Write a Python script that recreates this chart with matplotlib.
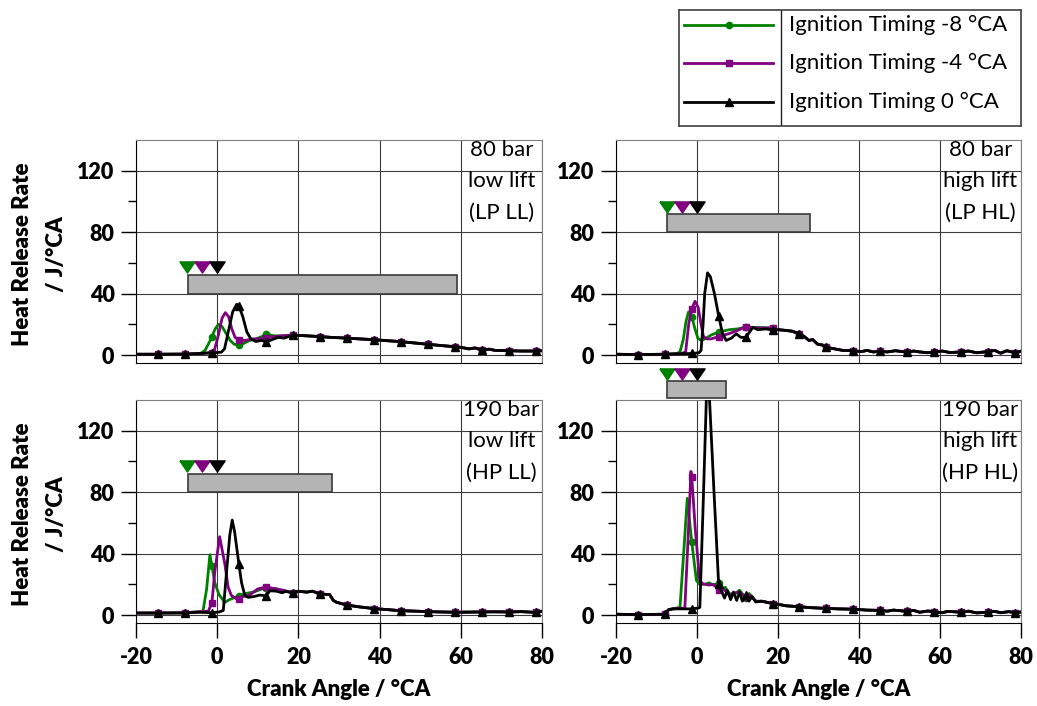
import numpy as np
import matplotlib.pyplot as plt
from matplotlib.patches import Rectangle

plt.rcParams['font.family'] = ['Lato', 'DejaVu Sans']
plt.rcParams['axes.unicode_minus'] = False

# ---- Data ----
# crank angles where the series markers sit
mark_ca = [-14.6, -7.95, -1.3, 5.35, 12.0, 18.65, 25.3, 31.95, 38.6, 45.25,
           51.9, 58.55, 65.2, 71.85, 78.5]

series_labels = ['Ignition Timing -8 °CA', 'Ignition Timing -4 °CA',
                 'Ignition Timing 0 °CA']
panel_text = [['80 bar', 'low lift', '(LP LL)'],
              ['80 bar', 'high lift', '(LP HL)'],
              ['190 bar', 'low lift', '(HP LL)'],
              ['190 bar', 'high lift', '(HP HL)']]

# grey bars (start / end in °CA, bottom / top in J/°CA) and ignition markers
bar_start = [-7.2, -7.4, -7.2, -7.4]
bar_end = [59.0, 28.0, 28.2, 7.1]
bar_low = [40, 80, 80, 141]
bar_high = [52, 92, 92, 152.5]
ign_ca = [-7.4, -3.7, 0.0]
ign_hrr = [57, 96.5, 97, 157]

# ---- 80 bar, low lift ----
lpll_tail_ca = [18.65, 22, 25.3, 28, 31.95, 35, 38.6, 42, 45.25, 48, 51.9, 55,
                58.55, 60, 62, 63.5, 65.2, 67, 68.5, 71.85, 75, 78.5, 80]
lpll_tail_hrr = [13, 12.5, 12, 11.5, 11, 10.5, 10, 9.3, 8.7, 8, 7, 6.2,
                 5.4, 5.0, 4.0, 4.6, 3.3, 3.8, 3.0, 2.8, 2.6, 2.6, 2.8]
lpll_m8_ca = [-20, -14.6, -7.95, -5, -4, -3, -2, -1.3, -0.5, 0.3, 1.2, 2.2,
              3.2, 4.2, 5.35, 6.5, 8, 9.5, 11, 12.0, 14, 16]
lpll_m8_hrr = [0.5, 0.5, 0.6, 0.8, 1.2, 3, 8, 12, 17, 20, 18.5, 14,
               9.5, 7, 6.5, 7.5, 9.5, 10.5, 12, 13.7, 12.5, 12.5]
lpll_m4_ca = [-20, -14.6, -7.95, -4, -1.3, -0.6, 0.3, 1.2, 2.0, 2.8, 3.6,
              4.4, 5.35, 7, 8.5, 10, 12.0, 14, 16]
lpll_m4_hrr = [0.5, 0.5, 0.6, 1.0, 1.5, 4, 13, 24, 27.6, 25, 17,
               11.5, 9.8, 9.5, 10.5, 10.5, 11.0, 12, 12.5]
lpll_0_ca = [-20, -14.6, -7.95, -4, -1.3, 1.0, 1.8, 2.8, 3.8, 4.8, 5.35,
             6.3, 7.3, 8.3, 9.5, 11, 12.0, 13.5, 15, 16.5]
lpll_0_hrr = [0.5, 0.5, 0.6, 1.0, 1.5, 1.8, 4, 16, 28, 33, 32,
              25, 15, 10.5, 8.8, 9.5, 8.5, 10, 11.5, 11]

# ---- 80 bar, high lift ----
lphl_tail_ca = [20, 22, 23.5, 25.3, 26.5, 27.7, 28.5, 29.8, 31, 31.95, 34,
                36, 38.6, 40.5, 42, 43.5, 45.25, 47, 49, 51.9, 53.5, 55, 57,
                58.55, 60.5, 62.5, 65.2, 67, 69, 71.85, 73.5, 75, 76.5,
                78.5, 80]
lphl_tail_hrr = [16.5, 16, 15.5, 13.8, 12, 9.4, 10.2, 7, 6.5, 5, 4,
                 3, 2.8, 2.2, 3.0, 2.0, 2.5, 2.0, 2.8, 1.8, 2.6, 2.0, 1.5,
                 2.0, 2.6, 1.6, 2.0, 2.6, 1.5, 2.2, 3.0, 1.2, 2.8,
                 1.5, 2.5]
lphl_m8_ca = [-20, -14.6, -7.95, -5, -4.2, -3.4, -2.7, -2.1, -1.3, -0.5,
              0.2, 1.0, 2.0, 3.5, 5.35, 8, 10, 12.0, 15, 18.65]
lphl_m8_hrr = [0.5, 0.3, 0.5, 1.0, 2, 10, 22, 28, 25, 17,
               11, 9.5, 10.5, 13, 15, 16.5, 17, 18, 18, 17.5]
lphl_m4_ca = [-20, -14.6, -7.95, -4, -2.8, -2.0, -1.3, -0.5, 0.3, 1.0, 1.6,
              2.5, 3.5, 5.35, 8, 10, 12.0, 15, 18.65]
lphl_m4_hrr = [0.5, 0.3, 0.5, 0.8, 2, 21, 30, 35, 31, 20, 12,
               10.5, 10.5, 12, 14, 16, 18.5, 17.5, 17.7]
lphl_0_ca = [-20, -14.6, -7.95, -4, -1.3, 0.5, 1.0, 1.5, 1.9, 2.6, 3.3, 4.3,
             5.35, 6.3, 7.2, 8.5, 9.7, 10.8, 12.0, 13.0, 13.8, 15, 17, 18.65]
lphl_0_hrr = [0.5, 0.3, 0.5, 0.8, 1.0, 1.5, 3, 20, 40, 53.5, 51, 40,
              25.5, 14, 9.5, 11, 13.8, 11.5, 11.5, 15, 18, 16.5, 17, 16.3]

# ---- 190 bar, low lift ----
hpll_tail_ca = [18.65, 20, 22, 23.5, 25.3, 27.7, 28.6, 29.4, 31.95, 35, 38.6,
                42, 45.25, 48, 51.9, 55, 58.55, 62, 65.2, 68, 71.85, 75,
                78.5, 80]
hpll_tail_hrr = [14.4, 15.5, 14.9, 15.5, 13.7, 13.3, 9.5, 8.3, 6.5, 5.3, 4.2,
                 3.5, 2.8, 2.6, 2.2, 2.0, 1.8, 1.9, 2.0, 2.1, 2.0, 2.2,
                 1.7, 2.5]
hpll_m8_ca = [-20, -14.6, -7.95, -5, -3.5, -2.6, -1.8, -1.3, -0.6, 0.5, 1.9,
              3, 5.35, 7, 9, 11, 12.0, 14.6, 16.5]
hpll_m8_hrr = [1.3, 1.3, 1.5, 2, 2.5, 17, 39.3, 32, 21, 13, 8.3,
               10, 12.5, 14, 15, 17, 17.5, 17, 15.5]
hpll_m4_ca = [-20, -14.6, -7.95, -5, -2.2, -1.3, -0.6, 0.6, 1.9, 2.7, 3.5,
              4.8, 5.35, 6.4, 8, 10, 12.0, 14.6, 16.5]
hpll_m4_hrr = [1.3, 1.3, 1.5, 2, 2.5, 8, 28, 51, 33, 18, 12.7,
               10.5, 10.5, 12, 13, 17, 18.2, 17, 16]
hpll_0_ca = [-20, -14.6, -7.95, -5, -1.3, 0.5, 1.5, 2.3, 3.1, 3.7, 4.3, 5.35,
             6.0, 6.8, 7.6, 9, 10.5, 12.0, 13, 14.6, 16, 17]
hpll_0_hrr = [1.3, 1.3, 1.3, 1.8, 1.5, 2, 3, 28, 52, 61.8, 54, 33,
              21, 12.7, 11.5, 12, 13, 12.5, 15.8, 15.5, 14.5, 15.5]

# ---- 190 bar, high lift ----
hphl_tail_ca = [18.65, 20, 22, 25.3, 28, 31.95, 35, 38.6, 42, 45.25, 47, 48.5,
                51.9, 53.5, 55, 57, 58.55, 60.5, 62, 65.2, 67, 69, 71.85,
                73.5, 75, 77, 78.5, 80]
hphl_tail_hrr = [7.5, 7, 6, 5.4, 4.8, 4.3, 4.0, 3.8, 3.2, 3.0, 2.5, 3.2,
                 2.4, 3.0, 1.8, 2.6, 2.2, 1.5, 2.4, 1.8, 2.5, 1.4, 1.8,
                 2.4, 1.5, 2.2, 1.5, 2.0]
hphl_m8_ca = [-20, -14.6, -7.95, -7, -6, -4.2, -3.3, -2.4, -1.3, -0.15, 0.65,
              2, 3, 4, 5.35, 6, 7, 8, 9.5, 10.5, 12.0, 12.9, 14.6, 16]
hphl_m8_hrr = [0.5, 0.3, 0.5, 3.5, 4, 5, 40, 76, 47.6, 22.5, 20,
               20, 21, 19.5, 21, 17, 18, 13.8, 14, 16.2, 11, 14, 8.7, 9]
hphl_m4_ca = [-20, -14.6, -7.95, -7, -6, -3, -2.2, -1.5, -1.3, -0.4, 0.65,
              1.4, 3, 4, 5.35, 6.5, 8, 9.5, 10.5, 12.0, 12.9, 14.6, 16]
hphl_m4_hrr = [0.5, 0.3, 0.5, 3.5, 4, 4.5, 50, 93.5, 90, 55, 22.5,
               20.4, 19.5, 20, 16.5, 17, 13, 14.5, 15, 11.5, 13, 9, 9]
hphl_0_ca = [-20, -14.6, -7.95, -7, -6, -1.3, 0.3, 0.7, 1.5, 2.3, 2.7, 3.1,
             4.2, 5.35, 6.0, 6.8, 7.5, 8.3, 9.0, 9.8, 10.5, 11.2, 12.0, 12.8,
             13.6, 14.5, 16]
hphl_0_hrr = [0.5, 0.3, 0.5, 3.5, 4, 4, 4.5, 5, 70, 140, 158, 140,
              80, 20, 16, 11, 16, 10, 15, 9.5, 15, 9, 13, 9,
              12, 8.5, 9]

panels = [
    [(lpll_m8_ca + lpll_tail_ca, lpll_m8_hrr + lpll_tail_hrr),
     (lpll_m4_ca + lpll_tail_ca, lpll_m4_hrr + lpll_tail_hrr),
     (lpll_0_ca + lpll_tail_ca, lpll_0_hrr + lpll_tail_hrr)],
    [(lphl_m8_ca + lphl_tail_ca, lphl_m8_hrr + lphl_tail_hrr),
     (lphl_m4_ca + lphl_tail_ca, lphl_m4_hrr + lphl_tail_hrr),
     (lphl_0_ca + lphl_tail_ca, lphl_0_hrr + lphl_tail_hrr)],
    [(hpll_m8_ca + hpll_tail_ca, hpll_m8_hrr + hpll_tail_hrr),
     (hpll_m4_ca + hpll_tail_ca, hpll_m4_hrr + hpll_tail_hrr),
     (hpll_0_ca + hpll_tail_ca, hpll_0_hrr + hpll_tail_hrr)],
    [(hphl_m8_ca + hphl_tail_ca, hphl_m8_hrr + hphl_tail_hrr),
     (hphl_m4_ca + hphl_tail_ca, hphl_m4_hrr + hphl_tail_hrr),
     (hphl_0_ca + hphl_tail_ca, hphl_0_hrr + hphl_tail_hrr)],
]

# ---- Style ----
colors = ['#008000', '#800080', '#000000']
markers = ['o', 's', '^']
msizes = [4.5, 4.8, 6]
tri_down = [(-1, 0.73), (1, 0.73), (0, -0.73), (-1, 0.73)]
BOLD = 'heavy'

W, H = 1037, 706
fig = plt.figure(figsize=(W / 100, H / 100), dpi=100)

lefts = [136, 616, 136, 616]
widths = [406, 405, 406, 405]
tops = [140, 140, 400, 400]
ax_h = 222.7

axes = []
for i in range(4):
    ax = fig.add_axes([lefts[i] / W, 1 - (tops[i] + ax_h) / H,
                       widths[i] / W, ax_h / H])
    axes.append(ax)

    for (x, y), col, mk, ms in zip(panels[i], colors, markers, msizes):
        x = np.array(x, dtype=float)
        every = list(np.flatnonzero(np.isin(np.round(x, 2),
                                            np.round(mark_ca, 2))))
        ax.plot(x, y, color=col, lw=2, marker=mk, ms=ms, markevery=every,
                zorder=4)

    ax.add_patch(Rectangle((bar_start[i], bar_low[i]),
                           bar_end[i] - bar_start[i], bar_high[i] - bar_low[i],
                           fc='#b4b4b4', ec='#3a3a3a', lw=1.2, clip_on=False,
                           zorder=5))
    for cx, col in zip(ign_ca, colors):
        ax.plot(cx, ign_hrr[i], marker=tri_down, ms=11, color=col, lw=0,
                clip_on=False, zorder=6)

    for line, ty in zip(panel_text[i], [133.5, 113, 92.3]):
        ax.text(70, ty, line, ha='center', va='center', fontsize=16,
                zorder=7)

    ax.set_xlim(-20, 80)
    ax.set_ylim(-5, 140)
    ax.set_xticks(range(-20, 81, 20))
    ax.set_yticks([0, 40, 80, 120])
    ax.set_yticks([20, 60, 100], minor=True)
    ax.grid(True, which='major', color='#3c3c3c', lw=0.8)
    ax.set_axisbelow(True)
    ax.tick_params(axis='both', which='major', direction='out', length=10.5,
                   width=1, labelsize=15.5, pad=5)
    ax.tick_params(axis='y', which='minor', direction='out', length=6,
                   width=1)
    for lab in ax.get_xticklabels() + ax.get_yticklabels():
        lab.set_fontweight(BOLD)
    if i < 2:
        ax.tick_params(axis='x', which='both', length=0, labelbottom=False)
    else:
        ax.tick_params(axis='x', pad=7)
    for side in ['left', 'bottom']:
        ax.spines[side].set_color('#000000')
    for side in ['top', 'right']:
        ax.spines[side].set_color('#7f7f7f')

# axis titles
for i in [0, 2]:
    cy = 1 - (tops[i] + ax_h / 2 + 3) / H
    fig.text(22.5 / W, cy, 'Heat Release Rate', rotation=90, ha='center',
             va='center', fontsize=16, fontweight=BOLD)
    fig.text(56 / W, cy, '/ J/°CA', rotation=90, ha='center',
             va='center', fontsize=16, fontweight=BOLD)
for i in [2, 3]:
    cx = (lefts[i] + widths[i] / 2) / W
    fig.text(cx, 1 - 690 / H, 'Crank Angle / °CA', ha='center', va='center',
             fontsize=16, fontweight=BOLD)

# ---- Legend box with divider ----
lg = fig.add_axes([678.7 / W, 1 - 125.7 / H, 342.3 / W, 115.7 / H])
lg.set_xlim(0, 1)
lg.set_ylim(0, 1)
lg.set_xticks([])
lg.set_yticks([])
for sp in lg.spines.values():
    sp.set_color('#404040')
    sp.set_linewidth(1.2)
lg.axvline(0.30, color='#202020', lw=1)
for row, (lab, col, mk, ms) in enumerate(zip(series_labels, colors, markers,
                                              msizes)):
    ry = [0.872, 0.540, 0.203][row]
    lg.plot([0.016, 0.275], [ry, ry], color=col, lw=2)
    lg.plot([0.146], [ry], color=col, marker=mk, ms=ms)
    lg.text(0.322, ry, lab, ha='left', va='center', fontsize=16)

fig.savefig('out.png', dpi=100)
